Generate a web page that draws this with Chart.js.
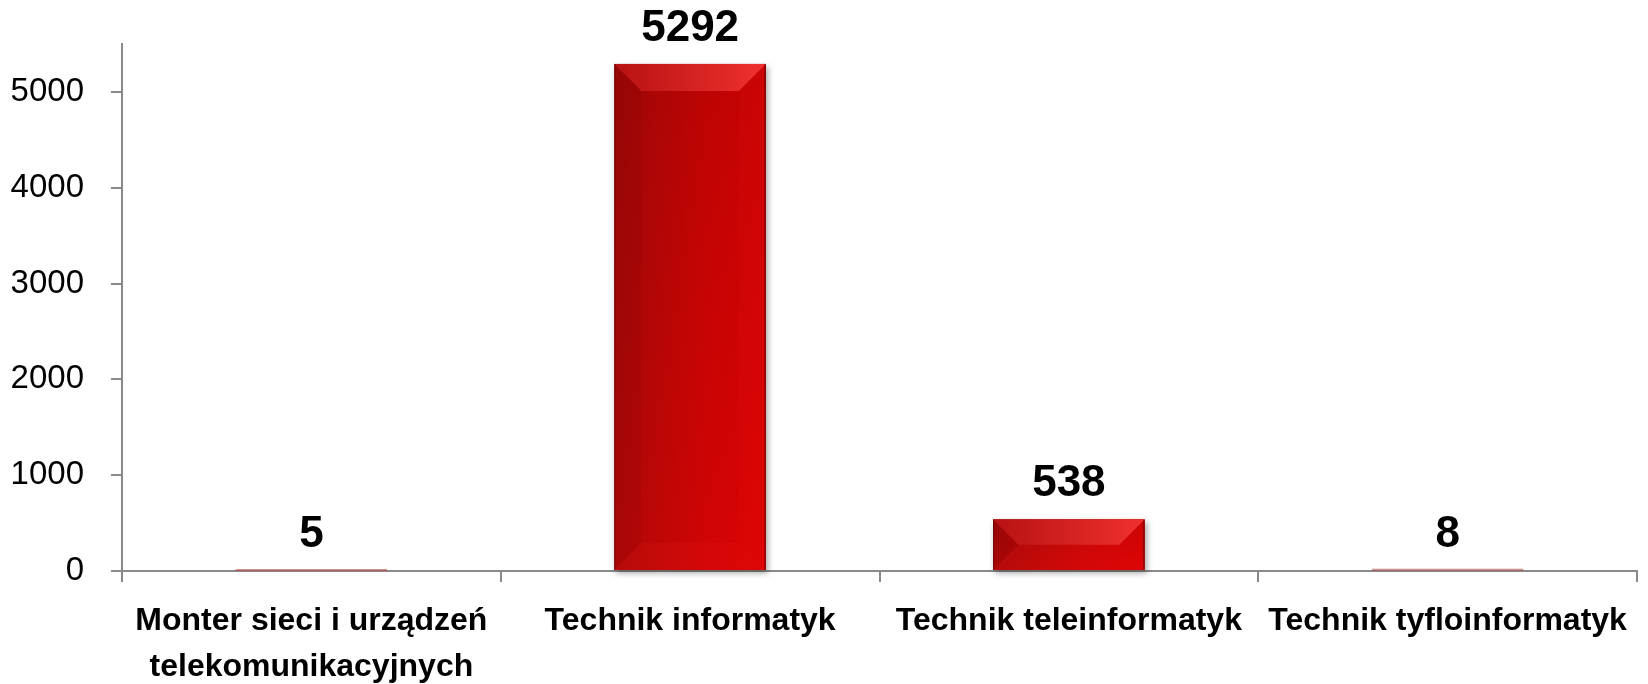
<!DOCTYPE html>
<html>
<head>
<meta charset="utf-8">
<script src="https://cdn.jsdelivr.net/npm/chart.js@4/dist/chart.umd.min.js"></script>
<style>
  body { margin: 0; background: #fff; }
  #wrap { width: 1648px; height: 684px; }
</style>
</head>
<body>
<div id="wrap"><canvas id="chart" width="1648" height="684"></canvas></div>
<script>
// data
const categories = [
  ['Monter sieci i urządzeń', 'telekomunikacyjnych'],
  'Technik informatyk',
  'Technik teleinformatyk',
  'Technik tyfloinformatyk'
];
const counts = [5, 5292, 538, 8];
const yTickValues = [0, 1000, 2000, 3000, 4000, 5000];
const yMax = 5500;

const axisGray = '#8a8a8a';

// bevelled bars + value labels on top
const bevelBars = {
  id: 'bevelBars',
  afterDatasetsDraw(chart) {
    const ctx = chart.ctx;
    const meta = chart.getDatasetMeta(0);
    meta.data.forEach((bar, i) => {
      const p = bar.getProps(['x', 'y', 'base', 'width'], true);
      const l = p.x - p.width / 2, r = p.x + p.width / 2;
      const t = Math.min(p.y, p.base), b = Math.max(p.y, p.base);
      const h = b - t;
      ctx.save();
      if (h > 1) {
        ctx.shadowColor = 'rgba(0,0,0,0.35)';
        ctx.shadowBlur = 6;
        ctx.shadowOffsetX = 2;
        ctx.shadowOffsetY = 3;
        const face = ctx.createLinearGradient(l, 0, r, 0);
        face.addColorStop(0, '#a60808');
        face.addColorStop(0.6, '#cc0404');
        face.addColorStop(1, '#d80202');
        ctx.fillStyle = face;
        ctx.fillRect(l, t, r - l, h);
        ctx.shadowColor = 'transparent';
        const vert = ctx.createLinearGradient(0, t, 0, b);
        vert.addColorStop(0, 'rgba(70,0,0,0.12)');
        vert.addColorStop(1, 'rgba(255,10,10,0.10)');
        ctx.fillStyle = vert;
        ctx.fillRect(l, t, r - l, h);

        const d = Math.min(27, h / 2, p.width / 2);
        const poly = (pts, fill) => {
          ctx.beginPath();
          ctx.moveTo(pts[0][0], pts[0][1]);
          for (let k = 1; k < pts.length; k++) ctx.lineTo(pts[k][0], pts[k][1]);
          ctx.closePath();
          ctx.fillStyle = fill;
          ctx.fill();
        };
        const topG = ctx.createLinearGradient(l, 0, r, 0);
        topG.addColorStop(0, '#b81212');
        topG.addColorStop(1, '#f03030');
        poly([[l, t], [r, t], [r - d, t + d], [l + d, t + d]], topG);
        poly([[l, t], [l + d, t + d], [l + d, b - d], [l, b]], 'rgba(90,0,0,0.08)');
        poly([[r, t], [r, b], [r - d, b - d], [r - d, t + d]], 'rgba(255,40,40,0.08)');
        poly([[l, b], [l + d, b - d], [r - d, b - d], [r, b]], 'rgba(255,40,40,0.10)');
        ctx.fillStyle = 'rgba(60,0,0,0.45)';
        ctx.fillRect(r - 1.5, t, 1.5, h);
        ctx.fillRect(l, t, 1, h);
      } else {
        ctx.fillStyle = 'rgba(190,120,120,0.8)';
        ctx.fillRect(l, b - 1.5, r - l, 1.5);
      }
      // value label
      ctx.fillStyle = '#000';
      ctx.font = 'bold 44px "Liberation Sans", Arial, sans-serif';
      ctx.textAlign = 'center';
      ctx.textBaseline = 'alphabetic';
      ctx.fillText(String(counts[i]), p.x, t - 23);
      ctx.restore();
    });
  }
};

new Chart(document.getElementById('chart').getContext('2d'), {
  type: 'bar',
  data: {
    labels: categories,
    datasets: [{
      data: counts,
      backgroundColor: '#c80404',
      borderWidth: 0,
      categoryPercentage: 1,
      barPercentage: 0.4
    }]
  },
  options: {
    responsive: false,
    animation: false,
    layout: { padding: { top: 44, right: 11, left: 0, bottom: 0 } },
    plugins: {
      legend: { display: false },
      tooltip: { enabled: false }
    },
    scales: {
      x: {
        afterFit: scale => { scale.height = 113; },
        grid: {
          offset: true,
          drawOnChartArea: false,
          tickLength: 11,
          color: axisGray,
          lineWidth: 2
        },
        border: { color: axisGray, width: 2 },
        ticks: {
          color: '#000',
          padding: 16,
          maxRotation: 0,
          autoSkip: false,
          font: { family: '"Liberation Sans", Arial, sans-serif', size: 32, weight: 'bold', lineHeight: 1.45 }
        }
      },
      y: {
        min: 0,
        max: yMax,
        afterBuildTicks: scale => {
          scale.ticks = yTickValues.map(v => ({ value: v }));
        },
        afterFit: scale => {
          scale.width = 122;
          scale.paddingTop = 0;
          scale.paddingBottom = 0;
        },
        grid: {
          drawOnChartArea: false,
          tickLength: 11,
          lineWidth: 2,
          color: axisGray
        },
        border: { color: axisGray, width: 2 },
        ticks: {
          autoSkip: false,
          color: '#000',
          padding: 27,
          callback: v => String(v),
          font: { family: '"Liberation Sans", Arial, sans-serif', size: 33 }
        }
      }
    }
  },
  plugins: [bevelBars]
});
</script>
</body>
</html>
